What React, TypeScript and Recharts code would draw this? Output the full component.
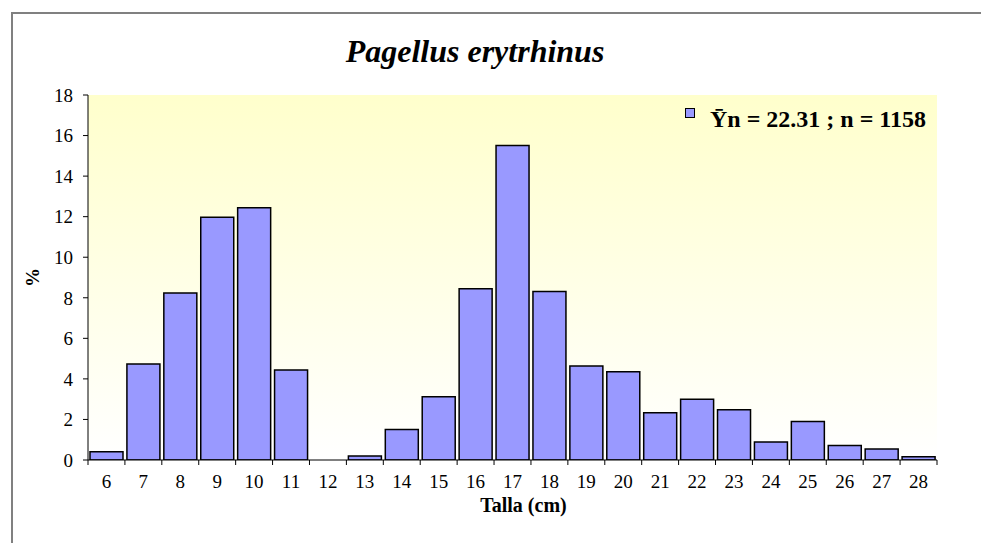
import React from 'react';
import { BarChart, Bar, XAxis, YAxis, CartesianGrid, Legend } from 'recharts';

const categories = ['6', '7', '8', '9', '10', '11', '12', '13', '14', '15', '16', '17', '18', '19', '20', '21', '22', '23', '24', '25', '26', '27', '28'];
const percentages = [0.41, 4.74, 8.23, 11.97, 12.44, 4.44, 0, 0.2, 1.51, 3.12, 8.45, 15.51, 8.31, 4.63, 4.35, 2.33, 2.99, 2.48, 0.89, 1.9, 0.72, 0.54, 0.16];
const yTicks = [0, 2, 4, 6, 8, 10, 12, 14, 16, 18];
const seriesName = 'Ȳn = 22.31 ; n = 1158';
const titleText = 'Pagellus erytrhinus';
const xTitle = 'Talla (cm)';
const yTitle = '%';

const data = categories.map((c, i) => ({ talla: c, pct: percentages[i] }));

const FONT = '"Liberation Serif", "Times New Roman", serif';
const W = 981;
const H = 543;
const MARGIN = { top: 95, right: 44, left: 12, bottom: 28 };
const Y_AXIS_W = 76;
const X_AXIS_H = 55;
const PLOT_LEFT = MARGIN.left + Y_AXIS_W;
const PLOT_W = W - MARGIN.right - PLOT_LEFT;
const BAND = PLOT_W / categories.length;
const TICK_FONT = 19;

const XTick = (props: any) => {
  const { x, y, payload, index } = props;
  const axisY = H - MARGIN.bottom - X_AXIS_H;
  const half = BAND / 2;
  return (
    <g>
      <line x1={x - half} x2={x - half} y1={axisY} y2={axisY + 5} stroke="#000" strokeWidth={1} />
      {index === categories.length - 1 && (
        <line x1={x + half} x2={x + half} y1={axisY} y2={axisY + 5} stroke="#000" strokeWidth={1} />
      )}
      <text x={x} y={y} dy="0.71em" textAnchor="middle" fontFamily={FONT} fontSize={TICK_FONT} fill="#000">
        {payload.value}
      </text>
    </g>
  );
};

const LegendContent = () => (
  <div style={{ display: 'flex', alignItems: 'flex-start', fontFamily: FONT, fontWeight: 'bold', fontSize: 24, color: '#000', whiteSpace: 'nowrap' }}>
    <svg width={12} height={12} style={{ marginRight: 14, marginTop: 1, flex: 'none' }}>
      <rect x={1.5} y={1.5} width={9} height={9} fill="#9999FF" stroke="#000" strokeWidth={1} />
    </svg>
    <span>{seriesName}</span>
  </div>
);

const YLabel = (props: any) => {
  const vb = props.viewBox || {};
  const cy = vb.y + vb.height / 2;
  const cx = 32;
  return (
    <text x={cx} y={cy} transform={`rotate(-90, ${cx}, ${cy})`} textAnchor="middle" dominantBaseline="central" fontFamily={FONT} fontWeight="bold" fontSize={TICK_FONT} fill="#000">
      {yTitle}
    </text>
  );
};

const XLabel = (props: any) => {
  const vb = props.viewBox || {};
  const cx = vb.x + vb.width / 2 + 11;
  return (
    <text x={cx} y={vb.y + 52} textAnchor="middle" fontFamily={FONT} fontWeight="bold" fontSize={20} fill="#000">
      {xTitle}
    </text>
  );
};

export default function App() {
  return (
    <div style={{ position: 'fixed', left: 0, top: 0, width: W, height: H, overflow: 'hidden', background: '#fff' }}>
      <div style={{ position: 'absolute', left: 11, top: 12, width: 1100, height: 700, borderLeft: '2px solid #808080', borderTop: '2px solid #808080' }} />
      <div style={{ position: 'absolute', left: 0, width: 950, top: 35, textAlign: 'center', fontFamily: FONT, fontWeight: 'bold', fontStyle: 'italic', fontSize: 32, lineHeight: 1, color: '#000' }}>
        {titleText}
      </div>
      <div style={{ position: 'absolute', left: 0, top: 0 }}>
        <BarChart width={W} height={H} data={data} margin={MARGIN} barCategoryGap={2}>
          <defs>
            <linearGradient id="plotBg" x1="0" y1="0" x2="0" y2="1">
              <stop offset="0%" stopColor="#FFFFCC" />
              <stop offset="100%" stopColor="#FFFFFF" />
            </linearGradient>
          </defs>
          <CartesianGrid horizontal={false} vertical={false} fill="url(#plotBg)" stroke="none" />
          <XAxis
            dataKey="talla"
            height={X_AXIS_H}
            interval={0}
            tickLine={false}
            tickSize={5}
            tickMargin={10}
            axisLine={{ stroke: '#000', strokeWidth: 1 }}
            tick={<XTick />}
            label={<XLabel />}
          />
          <YAxis
            width={Y_AXIS_W}
            domain={[0, 18]}
            ticks={yTicks}
            interval={0}
            allowDataOverflow
            tickSize={5}
            tickMargin={10}
            axisLine={{ stroke: '#000', strokeWidth: 1 }}
            tickLine={{ stroke: '#000', strokeWidth: 1 }}
            tick={{ fill: '#000', fontFamily: FONT, fontSize: TICK_FONT }}
            label={<YLabel />}
          />
          <Legend
            layout="vertical"
            align="center"
            verticalAlign="middle"
            content={<LegendContent />}
            wrapperStyle={{ position: 'absolute', top: 106, left: 684, width: 280 }}
          />
          <Bar dataKey="pct" name={seriesName} fill="#9999FF" stroke="#000" strokeWidth={1.5} isAnimationActive={false} />
        </BarChart>
      </div>
    </div>
  );
}
